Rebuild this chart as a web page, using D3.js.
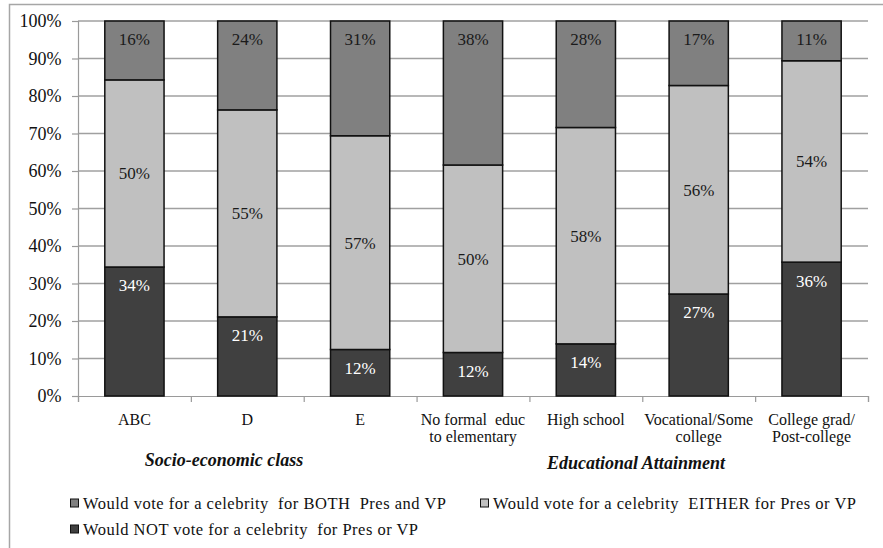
<!DOCTYPE html>
<html>
<head>
<meta charset="utf-8">
<script src="https://cdn.jsdelivr.net/npm/d3@7"></script>
<style>
  html, body { margin: 0; padding: 0; background: #fff; }
  svg { display: block; }
</style>
</head>
<body>
<svg id="chart" width="883" height="548" font-family="Liberation Serif"></svg>
<script>
// Survey categories (socio-economic class, then educational attainment)
const categories = [
  ["ABC"],
  ["D"],
  ["E"],
  ["No formal  educ", "to elementary"],
  ["High school"],
  ["Vocational/Some", "college"],
  ["College grad/", "Post-college"]
];

// Share of respondents (%) per category
const notVote    = [34.4, 21.1, 12.4, 11.6, 13.9, 27.2, 35.7];
const eitherVote = [49.9, 55.2, 57.0, 50.0, 57.7, 55.6, 53.7];
const bothVote   = [15.7, 23.7, 30.6, 38.4, 28.4, 17.2, 10.6];

const seriesNames = [
  "Would NOT vote for a celebrity  for Pres or VP",
  "Would vote for a celebrity  EITHER for Pres or VP",
  "Would vote for a celebrity  for BOTH  Pres and VP"
];
const seriesKeys = ["not", "either", "both"];
const yTicks = [0, 0.1, 0.2, 0.3, 0.4, 0.5, 0.6, 0.7, 0.8, 0.9, 1.0];
const groupTitles = ["Socio-economic class", "Educational Attainment"];

const FONT = "Liberation Serif";
const colors = { not: "#404040", either: "#c0c0c0", both: "#808080" };
const labelColors = { not: "#ffffff", either: "#1a1a1a", both: "#1a1a1a" };

const rows = categories.map((c, i) => ({
  idx: i, not: notVote[i], either: eitherVote[i], both: bothVote[i]
}));

const svg = d3.select("#chart");
const W = 883, H = 548;

// Outer frame (continues past the right and bottom edges)
svg.append("rect")
  .attr("x", 9.5).attr("y", 4.5)
  .attr("width", W + 20).attr("height", H + 20)
  .attr("fill", "none").attr("stroke", "#a6a6a6").attr("stroke-width", 1.5);

const plot = { left: 78, right: 868, top: 21, bottom: 396 };

const x = d3.scaleBand()
  .domain(rows.map(r => r.idx))
  .range([plot.left, plot.right])
  .paddingInner(0.475).paddingOuter(0.2375);

const xTick = d3.scaleLinear().domain([0, categories.length]).range([plot.left, plot.right]);

const y = d3.scaleLinear().domain([0, 1]).range([plot.bottom, plot.top]);

const stack = d3.stack().keys(seriesKeys).offset(d3.stackOffsetExpand);
const stacked = stack(rows);

// Gridlines
svg.append("g").selectAll("line")
  .data(yTicks.filter(t => t > 0))
  .join("line")
  .attr("x1", plot.left).attr("x2", plot.right)
  .attr("y1", d => y(d)).attr("y2", d => y(d))
  .attr("stroke", "#a0a0a0").attr("stroke-width", 1.5);

// y axis
const yAxis = d3.axisLeft(y).tickValues(yTicks).tickFormat(d3.format(".0%"))
  .tickSize(6).tickPadding(10.5);
const yG = svg.append("g").attr("transform", `translate(${plot.left},0)`).call(yAxis);
yG.attr("font-family", FONT).attr("font-size", 18);
yG.select(".domain").attr("stroke", "#9a9a9a").attr("stroke-width", 1.2);
yG.selectAll(".tick line").attr("stroke", "#9a9a9a").attr("stroke-width", 1.2);
yG.selectAll(".tick text").attr("font-family", FONT).attr("font-size", 18).attr("fill", "#111");

// x axis with ticks at category boundaries
const xG = svg.append("g").attr("transform", `translate(0,${plot.bottom})`)
  .call(d3.axisBottom(xTick).tickValues(d3.range(0, categories.length + 1)).tickSize(6).tickFormat(""));
xG.select(".domain").attr("stroke", "#9a9a9a").attr("stroke-width", 1.2);
xG.selectAll(".tick line").attr("stroke", "#9a9a9a").attr("stroke-width", 1.2);

// Stacked bars
const layers = svg.append("g").selectAll("g")
  .data(stacked)
  .join("g")
  .attr("fill", d => colors[d.key]);

layers.selectAll("rect")
  .data(d => d)
  .join("rect")
  .attr("x", d => x(d.data.idx))
  .attr("width", x.bandwidth())
  .attr("y", d => y(d[1]))
  .attr("height", d => y(d[0]) - y(d[1]))
  .attr("stroke", "#111")
  .attr("stroke-width", 1.5);

// Value labels: inside end for NOT and BOTH, centred for EITHER
const fmt = d3.format(".0f");
stacked.forEach(layer => {
  svg.append("g").selectAll("text")
    .data(layer)
    .join("text")
    .attr("x", d => x(d.data.idx) + x.bandwidth() / 2)
    .attr("y", d => layer.key === "either"
      ? (y(d[0]) + y(d[1])) / 2
      : y(d[1]) + 18.5)
    .attr("dy", "0.35em")
    .attr("text-anchor", "middle")
    .attr("font-family", FONT)
    .attr("font-size", 17)
    .attr("fill", labelColors[layer.key])
    .text(d => fmt(d.data[layer.key]) + "%");
});

// Category labels
const catG = svg.append("g").selectAll("text")
  .data(categories)
  .join("text")
  .attr("x", (d, i) => x(i) + x.bandwidth() / 2)
  .attr("y", 419)
  .attr("text-anchor", "middle")
  .attr("font-family", FONT)
  .attr("font-size", 16)
  .attr("fill", "#111")
  .attr("xml:space", "preserve")
  .style("white-space", "pre");
catG.selectAll("tspan")
  .data(d => d)
  .join("tspan")
  .attr("x", function () { return d3.select(this.parentNode).attr("x"); })
  .attr("dy", (d, j) => j === 0 ? "0.35em" : "1.1em")
  .text(d => d);

// Group titles, set as free text boxes beneath each category group
const titlePos = [
  { text: groupTitles[0], at: 1.294, y: 459.5 },
  { text: groupTitles[1], at: 4.944, y: 462.5 }
];
svg.append("g").selectAll("text")
  .data(titlePos)
  .join("text")
  .attr("x", d => xTick(d.at)).attr("y", d => d.y)
  .attr("dy", "0.35em").attr("text-anchor", "middle")
  .attr("font-family", FONT)
  .attr("font-size", 18).attr("font-weight", "bold").attr("font-style", "italic")
  .attr("fill", "#111")
  .text(d => d.text);

// Legend
const legendItems = [
  { key: "both", name: seriesNames[2], lx: 70, ly: 503, w: 363 },
  { key: "either", name: seriesNames[1], lx: 480, ly: 503, w: 363 },
  { key: "not", name: seriesNames[0], lx: 70, ly: 529, w: 335 }
];
const lg = svg.append("g").selectAll("g")
  .data(legendItems)
  .join("g")
  .attr("transform", d => `translate(${d.lx},${d.ly})`);
lg.append("rect")
  .attr("x", 0.5).attr("y", -4).attr("width", 8).attr("height", 8)
  .attr("fill", d => colors[d.key])
  .attr("stroke", "#111").attr("stroke-width", 1);
lg.append("text")
  .attr("x", 13).attr("y", 0).attr("dy", "0.35em")
  .attr("font-family", FONT)
  .attr("font-size", 16.5).attr("fill", "#111")
  .attr("xml:space", "preserve")
  .style("white-space", "pre")
  .attr("textLength", d => d.w)
  .attr("lengthAdjust", "spacing")
  .text(d => d.name);
</script>
</body>
</html>
